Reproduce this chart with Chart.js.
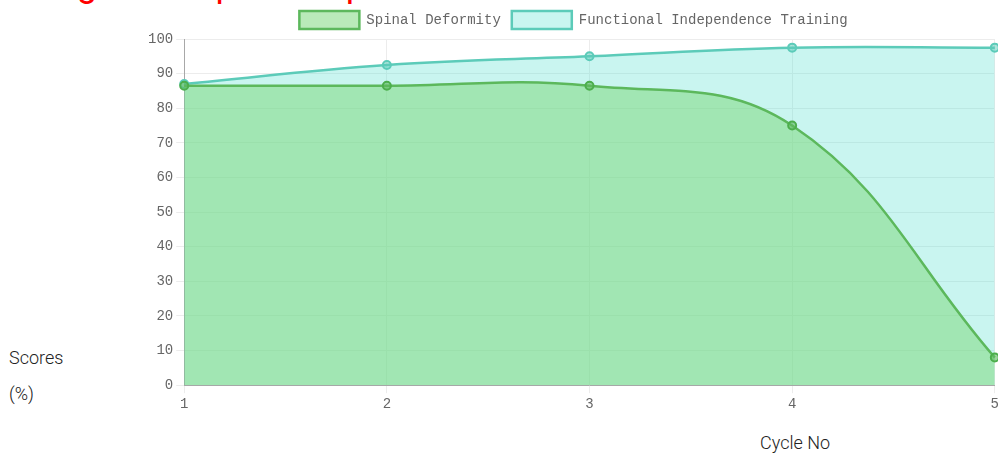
<!DOCTYPE html>
<html>
<head>
<meta charset="utf-8">
<script src="https://cdn.jsdelivr.net/npm/chart.js@4"></script>
<style>
    body { margin: 0; width: 998px; height: 457px; overflow: hidden; background: #fff; position: relative; }
    .title { position: absolute; left: 22px; top: -37px; font: 36px Roboto, sans-serif; color: #ff0000; white-space: nowrap; }
    .chart-wrap { position: absolute; left: 140px; top: 0; width: 862px; height: 416px; }
    .y-title { position: absolute; left: 9px; top: 340px; width: 80px; font: 300 18px Roboto, sans-serif; color: #222; line-height: 36px; }
    .x-title { position: absolute; left: 760px; top: 432px; font: 300 18px Roboto, sans-serif; color: #222; }
</style>
</head>
<body>
<div class="title">Progress Report Graph</div>
<div class="chart-wrap"><canvas id="progressChart"></canvas></div>
<div class="y-title">Scores (%)</div>
<div class="x-title">Cycle No</div>
<script>
const cycles = ['1', '2', '3', '4', '5'];
const spinalDeformity = [86.5, 86.5, 86.5, 75, 8];
const functionalTraining = [87, 92.5, 95, 97.5, 97.5];

document.addEventListener('DOMContentLoaded', () => {
    const canvas = document.getElementById('progressChart');
    const tickFont = { family: '"Liberation Mono", monospace', size: 14 };

    new Chart(canvas, {
        type: 'line',
        data: {
            labels: cycles,
            datasets: [{
                label: 'Spinal Deformity',
                data: spinalDeformity,
                borderColor: '#5cb85c',
                backgroundColor: 'rgba(127, 217, 127, 0.55)',
                pointBackgroundColor: 'rgba(92, 184, 92, 0.6)',
                pointBorderColor: '#4cae4c',
                pointBorderWidth: 2,
                pointRadius: 4,
                borderWidth: 2.5,
                tension: 0.4,
                fill: 'origin',
            }, {
                label: 'Functional Independence Training',
                data: functionalTraining,
                borderColor: '#5ccbb9',
                backgroundColor: 'rgba(75, 222, 205, 0.3)',
                pointBackgroundColor: 'rgba(92, 203, 185, 0.5)',
                pointBorderColor: '#5ccbb9',
                pointBorderWidth: 2,
                pointRadius: 4,
                borderWidth: 2.5,
                tension: 0.4,
                fill: 'origin',
            }],
        },
        options: {
            responsive: true,
            maintainAspectRatio: false,
            animation: false,
            layout: {
                padding: { left: 5, right: 0, top: 0, bottom: 0 },
            },
            plugins: {
                legend: {
                    position: 'top',
                    labels: {
                        boxWidth: 60,
                        boxHeight: 18,
                        padding: 11,
                        color: '#666',
                        font: tickFont,
                    },
                },
                tooltip: { enabled: false },
            },
            scales: {
                x: {
                    grid: { color: '#ececec', tickLength: 8 },
                    border: { color: '#a8a8a8' },
                    ticks: { color: '#666', font: tickFont },
                },
                y: {
                    min: 0,
                    max: 100,
                    grid: { color: '#ececec', tickLength: 8 },
                    border: { color: '#a8a8a8' },
                    ticks: { stepSize: 10, color: '#666', font: tickFont },
                },
            },
        },
    });
});
</script>
</body>
</html>
